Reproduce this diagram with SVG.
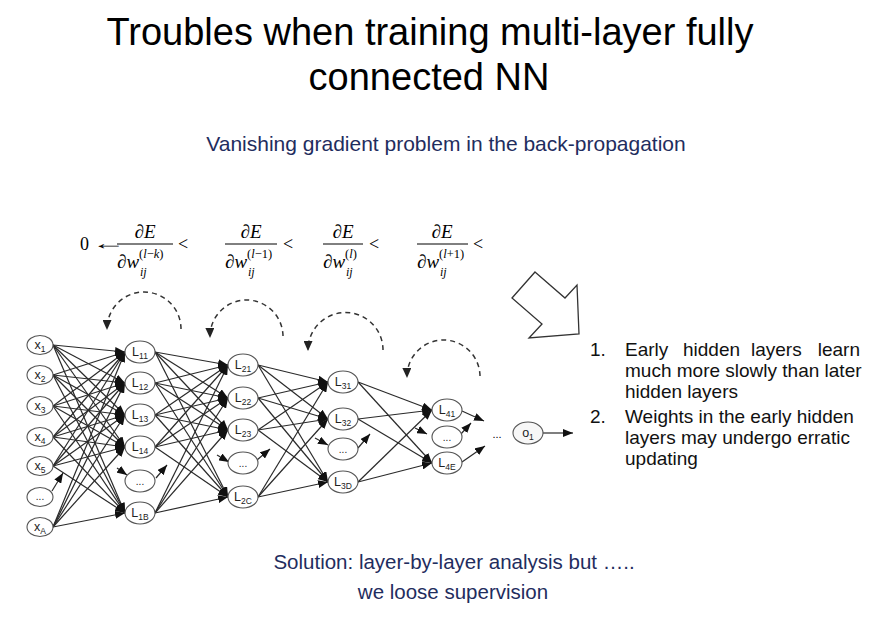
<svg xmlns="http://www.w3.org/2000/svg" width="878" height="624" viewBox="0 0 878 624">
<defs>
<marker id="ah" markerUnits="userSpaceOnUse" markerWidth="10" markerHeight="8" viewBox="0 0 10 8" refX="10" refY="4" orient="auto"><path d="M0,0 L10,4 L0,8 z" fill="#111"/></marker>
<marker id="ahd" markerUnits="userSpaceOnUse" markerWidth="10" markerHeight="9" viewBox="0 0 10 9" refX="9" refY="4.5" orient="auto"><path d="M0,0 L10,4.5 L0,9 z" fill="#222"/></marker>
<style>
.t{font-family:"Liberation Sans",Arial,sans-serif;fill:#000}
.b{font-family:"Liberation Sans",Arial,sans-serif;fill:#1f2d5e}
.m{font-family:"Liberation Serif","Times New Roman",serif;fill:#000}
.i{font-style:italic}
.n ellipse{fill:#fff;stroke:#555;stroke-width:1.1}
.n text{font-family:"Liberation Sans",Arial,sans-serif;fill:#222;font-size:12.5px;text-anchor:middle}
.n .s{font-size:8.5px}
.n .d{font-size:10px}
#conn line{stroke:#2a2a2a;stroke-width:1.2;marker-end:url(#ah)}
.arc{fill:none;stroke:#333;stroke-width:1.5;stroke-dasharray:5 4;marker-end:url(#ahd)}
.lst{font-family:"Liberation Sans",Arial,sans-serif;font-size:19px;fill:#111}
</style>
</defs>
<rect width="878" height="624" fill="#fff"/>

<text class="t" x="430" y="45" font-size="38" text-anchor="middle">Troubles when training multi-layer fully</text>
<text class="t" x="429" y="90" font-size="38" text-anchor="middle">connected NN</text>
<text class="b" x="446" y="151" font-size="21" text-anchor="middle">Vanishing gradient problem in the back-propagation</text>

<g id="formula">
<text class="m" x="80" y="250" font-size="18">0</text>
<text class="m" font-size="18" transform="translate(92,249) scale(1.9,1)">←</text>
<line x1="117" y1="244" x2="173" y2="244" stroke="#000" stroke-width="1"/>
<text class="m i" x="145" y="238" font-size="19" text-anchor="middle">∂E</text>
<text class="m i" x="117" y="268" font-size="19">∂w</text>
<text class="m" x="139" y="258" font-size="12.5">(<tspan font-style="italic">l</tspan>−<tspan font-style="italic">k</tspan>)</text>
<text class="m i" x="140" y="276" font-size="12">ij</text>
<text class="m" x="178" y="250" font-size="18">&lt;</text>

<line x1="225" y1="244" x2="277" y2="244" stroke="#000" stroke-width="1"/>
<text class="m i" x="251" y="238" font-size="19" text-anchor="middle">∂E</text>
<text class="m i" x="225" y="268" font-size="19">∂w</text>
<text class="m" x="247" y="258" font-size="12.5">(<tspan font-style="italic">l</tspan>−1)</text>
<text class="m i" x="248" y="276" font-size="12">ij</text>
<text class="m" x="283" y="250" font-size="18">&lt;</text>

<line x1="323" y1="244" x2="363" y2="244" stroke="#000" stroke-width="1"/>
<text class="m i" x="343" y="238" font-size="19" text-anchor="middle">∂E</text>
<text class="m i" x="323" y="268" font-size="19">∂w</text>
<text class="m" x="345" y="258" font-size="12.5">(<tspan font-style="italic">l</tspan>)</text>
<text class="m i" x="346" y="276" font-size="12">ij</text>
<text class="m" x="369" y="250" font-size="18">&lt;</text>

<line x1="417" y1="244" x2="468" y2="244" stroke="#000" stroke-width="1"/>
<text class="m i" x="442" y="238" font-size="19" text-anchor="middle">∂E</text>
<text class="m i" x="417" y="268" font-size="19">∂w</text>
<text class="m" x="439" y="258" font-size="12.5">(<tspan font-style="italic">l</tspan>+1)</text>
<text class="m i" x="440" y="276" font-size="12">ij</text>
<text class="m" x="473" y="250" font-size="18">&lt;</text>
</g>

<g id="arcs">
<path class="arc" d="M181,329 A37,37 0 0 0 107,329"/>
<path class="arc" d="M283,336 A36.5,36.5 0 0 0 210,337"/>
<path class="arc" d="M383,350 A37.5,37.5 0 0 0 308,350"/>
<path class="arc" d="M480,376 A36.5,36.5 0 0 0 407,377"/>
</g>

<g id="bigarrow">
<polygon points="535,272 565,298 577,285 579,334 529,338 542,324 512,298" fill="#fff" stroke="#333" stroke-width="1.3" stroke-linejoin="miter"/>
</g>

<g id="conn">
<line x1="53" y1="345" x2="125" y2="352"/><line x1="53" y1="345" x2="125" y2="383"/><line x1="53" y1="345" x2="125" y2="415"/><line x1="53" y1="345" x2="125" y2="447"/><line x1="53" y1="345" x2="125" y2="513"/>
<line x1="53" y1="375" x2="125" y2="352"/><line x1="53" y1="375" x2="125" y2="383"/><line x1="53" y1="375" x2="125" y2="415"/><line x1="53" y1="375" x2="125" y2="447"/><line x1="53" y1="375" x2="125" y2="513"/>
<line x1="53" y1="406" x2="125" y2="352"/><line x1="53" y1="406" x2="125" y2="383"/><line x1="53" y1="406" x2="125" y2="415"/><line x1="53" y1="406" x2="125" y2="447"/><line x1="53" y1="406" x2="125" y2="513"/>
<line x1="53" y1="437" x2="125" y2="352"/><line x1="53" y1="437" x2="125" y2="383"/><line x1="53" y1="437" x2="125" y2="415"/><line x1="53" y1="437" x2="125" y2="447"/><line x1="53" y1="437" x2="125" y2="513"/>
<line x1="53" y1="466" x2="125" y2="352"/><line x1="53" y1="466" x2="125" y2="383"/><line x1="53" y1="466" x2="125" y2="415"/><line x1="53" y1="466" x2="125" y2="447"/><line x1="53" y1="466" x2="125" y2="513"/>
<line x1="53" y1="527" x2="125" y2="352"/><line x1="53" y1="527" x2="125" y2="383"/><line x1="53" y1="527" x2="125" y2="415"/><line x1="53" y1="527" x2="125" y2="447"/><line x1="53" y1="527" x2="125" y2="513"/>
<line x1="52" y1="491" x2="63" y2="473"/>

<line x1="155" y1="352" x2="228" y2="365"/><line x1="155" y1="352" x2="228" y2="398"/><line x1="155" y1="352" x2="228" y2="430"/><line x1="155" y1="352" x2="228" y2="497"/>
<line x1="155" y1="383" x2="228" y2="365"/><line x1="155" y1="383" x2="228" y2="398"/><line x1="155" y1="383" x2="228" y2="430"/><line x1="155" y1="383" x2="228" y2="497"/>
<line x1="155" y1="415" x2="228" y2="365"/><line x1="155" y1="415" x2="228" y2="398"/><line x1="155" y1="415" x2="228" y2="430"/><line x1="155" y1="415" x2="228" y2="497"/>
<line x1="155" y1="447" x2="228" y2="365"/><line x1="155" y1="447" x2="228" y2="398"/><line x1="155" y1="447" x2="228" y2="430"/><line x1="155" y1="447" x2="228" y2="497"/>
<line x1="155" y1="513" x2="228" y2="365"/><line x1="155" y1="513" x2="228" y2="398"/><line x1="155" y1="513" x2="228" y2="430"/><line x1="155" y1="513" x2="228" y2="497"/>
<line x1="117" y1="468" x2="127" y2="475"/><line x1="156" y1="478" x2="167" y2="465"/>

<line x1="258" y1="365" x2="328" y2="382"/><line x1="258" y1="365" x2="328" y2="419"/><line x1="258" y1="365" x2="328" y2="482"/>
<line x1="258" y1="398" x2="328" y2="382"/><line x1="258" y1="398" x2="328" y2="419"/><line x1="258" y1="398" x2="328" y2="482"/>
<line x1="258" y1="430" x2="328" y2="382"/><line x1="258" y1="430" x2="328" y2="419"/><line x1="258" y1="430" x2="328" y2="482"/>
<line x1="258" y1="497" x2="328" y2="382"/><line x1="258" y1="497" x2="328" y2="419"/><line x1="258" y1="497" x2="328" y2="482"/>
<line x1="217" y1="455" x2="229" y2="462"/><line x1="257" y1="460" x2="270" y2="449"/>

<line x1="358" y1="382" x2="432" y2="410"/><line x1="358" y1="382" x2="432" y2="463"/>
<line x1="358" y1="419" x2="432" y2="410"/><line x1="358" y1="419" x2="432" y2="463"/>
<line x1="358" y1="482" x2="432" y2="410"/><line x1="358" y1="482" x2="432" y2="463"/>
<line x1="315" y1="438" x2="328" y2="445"/><line x1="358" y1="448" x2="370" y2="434"/>

<line x1="415" y1="428" x2="427" y2="434"/><line x1="460" y1="435" x2="471" y2="423"/>
<line x1="462" y1="411" x2="484" y2="421"/><line x1="462" y1="462" x2="485" y2="446"/>
<line x1="543" y1="433" x2="573" y2="433"/>
</g>

<g id="in1" class="n"><ellipse cx="40" cy="345" rx="13" ry="9.5"/><text x="40" y="349">x<tspan class="s" dy="3">1</tspan></text></g>
<g id="in2" class="n"><ellipse cx="40" cy="375" rx="13" ry="9.5"/><text x="40" y="379">x<tspan class="s" dy="3">2</tspan></text></g>
<g id="in3" class="n"><ellipse cx="40" cy="406" rx="13" ry="9.5"/><text x="40" y="410">x<tspan class="s" dy="3">3</tspan></text></g>
<g id="in4" class="n"><ellipse cx="40" cy="437" rx="13" ry="9.5"/><text x="40" y="441">x<tspan class="s" dy="3">4</tspan></text></g>
<g id="in5" class="n"><ellipse cx="40" cy="466" rx="13" ry="9.5"/><text x="40" y="470">x<tspan class="s" dy="3">5</tspan></text></g>
<g id="inDots" class="n"><ellipse cx="40" cy="497" rx="13" ry="9.5"/><text class="d" x="40" y="500">...</text></g>
<g id="inA" class="n"><ellipse cx="40" cy="527" rx="13" ry="9.5"/><text x="40" y="531">x<tspan class="s" dy="3">A</tspan></text></g>

<g id="L11" class="n"><ellipse cx="140" cy="352" rx="15" ry="11"/><text x="140" y="356">L<tspan class="s" dy="3">11</tspan></text></g>
<g id="L12" class="n"><ellipse cx="140" cy="383" rx="15" ry="11"/><text x="140" y="387">L<tspan class="s" dy="3">12</tspan></text></g>
<g id="L13" class="n"><ellipse cx="140" cy="415" rx="15" ry="11"/><text x="140" y="419">L<tspan class="s" dy="3">13</tspan></text></g>
<g id="L14" class="n"><ellipse cx="140" cy="447" rx="15" ry="11"/><text x="140" y="451">L<tspan class="s" dy="3">14</tspan></text></g>
<g id="L1dots" class="n"><ellipse cx="140" cy="481" rx="15" ry="11"/><text class="d" x="140" y="485">...</text></g>
<g id="L1B" class="n"><ellipse cx="140" cy="513" rx="15" ry="11"/><text x="140" y="517">L<tspan class="s" dy="3">1B</tspan></text></g>

<g id="L21" class="n"><ellipse cx="243" cy="365" rx="15" ry="11"/><text x="243" y="369">L<tspan class="s" dy="3">21</tspan></text></g>
<g id="L22" class="n"><ellipse cx="243" cy="398" rx="15" ry="11"/><text x="243" y="402">L<tspan class="s" dy="3">22</tspan></text></g>
<g id="L23" class="n"><ellipse cx="243" cy="430" rx="15" ry="11"/><text x="243" y="434">L<tspan class="s" dy="3">23</tspan></text></g>
<g id="L2dots" class="n"><ellipse cx="243" cy="463" rx="15" ry="11"/><text class="d" x="243" y="467">...</text></g>
<g id="L2C" class="n"><ellipse cx="243" cy="497" rx="15" ry="11"/><text x="243" y="501">L<tspan class="s" dy="3">2C</tspan></text></g>

<g id="L31" class="n"><ellipse cx="343" cy="382" rx="15" ry="11"/><text x="343" y="386">L<tspan class="s" dy="3">31</tspan></text></g>
<g id="L32" class="n"><ellipse cx="343" cy="419" rx="15" ry="11"/><text x="343" y="423">L<tspan class="s" dy="3">32</tspan></text></g>
<g id="L3dots" class="n"><ellipse cx="343" cy="449" rx="15" ry="11"/><text class="d" x="343" y="453">...</text></g>
<g id="L3D" class="n"><ellipse cx="343" cy="482" rx="15" ry="11"/><text x="343" y="486">L<tspan class="s" dy="3">3D</tspan></text></g>

<g id="L41" class="n"><ellipse cx="447" cy="410" rx="15" ry="11"/><text x="447" y="414">L<tspan class="s" dy="3">41</tspan></text></g>
<g id="L4dots" class="n"><ellipse cx="447" cy="437" rx="15" ry="11"/><text class="d" x="447" y="441">...</text></g>
<g id="L4E" class="n"><ellipse cx="447" cy="463" rx="15" ry="11"/><text x="447" y="467">L<tspan class="s" dy="3">4E</tspan></text></g>

<text class="t" x="497" y="438" font-size="11" text-anchor="middle" fill="#333">...</text>
<g id="o1" class="n"><ellipse cx="528" cy="433" rx="15" ry="11" style="fill:#f7f7f7"/><text x="528" y="437">o<tspan class="s" dy="3">1</tspan></text></g>

<g id="list">
<text class="lst" x="590" y="356">1.</text>
<text class="lst" x="625" y="356">Early</text>
<text class="lst" x="683" y="356">hidden</text>
<text class="lst" x="751" y="356">layers</text>
<text class="lst" x="860" y="356" text-anchor="end">learn</text>
<text class="lst" x="625" y="377">much more slowly than later</text>
<text class="lst" x="625" y="398">hidden layers</text>
<text class="lst" x="590" y="423">2.</text>
<text class="lst" x="625" y="423">Weights in the early hidden</text>
<text class="lst" x="625" y="444">layers may undergo erratic</text>
<text class="lst" x="625" y="465">updating</text>
</g>

<text class="b" x="454" y="569" font-size="20.5" text-anchor="middle">Solution: layer-by-layer analysis but …..</text>
<text class="b" x="453" y="599" font-size="20.5" text-anchor="middle">we loose supervision</text>
</svg>
